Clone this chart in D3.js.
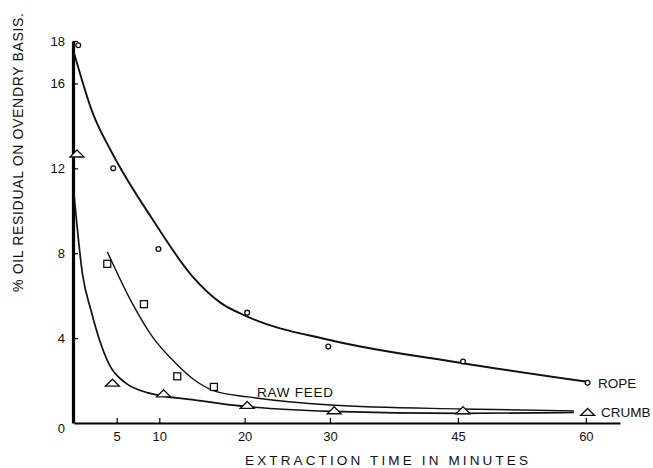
<!DOCTYPE html>
<html>
<head>
<meta charset="utf-8">
<script src="https://cdn.jsdelivr.net/npm/d3@7"></script>
<style>
  body { margin: 0; background: #fff; }
  text { font-family: "Liberation Sans", Arial, sans-serif; fill: #111; }
</style>
</head>
<body>
<div class="container"></div>
<script>
// measured points
const ropeTime = [0.5, 4.6, 9.9, 20.3, 29.8, 45.6, 60.2]
const ropeOil = [17.8, 12.0, 8.2, 5.2, 3.6, 2.9, 1.9]
const rawTime = [3.9, 8.2, 12.1, 16.4]
const rawOil = [7.5, 5.6, 2.2, 1.7]
const crumbTime = [0.35, 4.5, 10.5, 20.3, 30.5, 45.6, 60.2]
const crumbOil = [12.7, 1.9, 1.4, 0.85, 0.6, 0.6, 0.52]

// hand drawn fitted curves
const ropeFitTime = [0, 2.2, 4.5, 9.2, 13.9, 17.2, 20.4, 30.1, 45.4, 60.4]
const ropeFitOil = [17.45, 14.6, 12.7, 9.6, 6.9, 5.66, 5.0, 3.9, 2.83, 1.93]
const rawFitTime = [3.9, 6.8, 9.2, 11.9, 14.2, 16.5, 20.4, 30.1, 45.4, 58.6]
const rawFitOil = [8.07, 5.66, 4.06, 2.83, 2.0, 1.5, 1.23, 0.85, 0.66, 0.57]
const crumbFitTime = [0, 1.0, 2.0, 3.0, 4.2, 6.0, 8.7, 14.2, 20.1, 30.1, 45.4, 58.6]
const crumbFitOil = [10.8, 7.0, 5.3, 3.9, 2.7, 1.9, 1.42, 1.08, 0.78, 0.55, 0.45, 0.5]

const xTicks = [5, 10, 20, 30, 45, 60]
const yTicks = [4, 8, 12, 16, 18]

const width = 653
const height = 468

const xScale = d3.scaleLinear().domain([0, 64]).range([74, 620])
const yScale = d3.scaleLinear().domain([0, 18]).range([423, 41])

const svg = d3.select(".container").append("svg")
    .attr("width", width)
    .attr("height", height)

const xAxis = d3.axisBottom(xScale).tickValues(xTicks).tickSizeInner(-5).tickSizeOuter(0).tickPadding(9)
const yAxis = d3.axisLeft(yScale).tickValues(yTicks).tickSizeInner(-5).tickSizeOuter(0).tickPadding(8)

const gx = svg.append("g")
    .attr("transform", `translate(0,${yScale(0)})`)
    .call(xAxis)
gx.select(".domain").attr("stroke-width", 2)
gx.selectAll(".tick line").attr("stroke-width", 1.2)
gx.selectAll(".tick text").style("font-size", "13px").attr("fill", "#111")

const gy = svg.append("g")
    .attr("transform", `translate(${xScale(0) - 1},0)`)
    .call(yAxis)
gy.select(".domain").attr("stroke-width", 3.2)
gy.selectAll(".tick line").attr("stroke-width", 1.2)
gy.selectAll(".tick text").style("font-size", "13px").attr("fill", "#111")

svg.append("text")
    .attr("x", xScale(0) - 9)
    .attr("y", yScale(0) + 10)
    .attr("text-anchor", "end")
    .style("font-size", "13px")
    .text("0")

const line = d3.line()
    .x(d => xScale(d[0]))
    .y(d => yScale(d[1]))
    .curve(d3.curveMonotoneX)

function drawFit(t, v, w){
    svg.append("path")
        .datum(t.map((d, i) => [d, v[i]]))
        .attr("d", line)
        .attr("fill", "none")
        .attr("stroke", "#111")
        .attr("stroke-width", w)
}
drawFit(ropeFitTime, ropeFitOil, 1.9)
drawFit(rawFitTime, rawFitOil, 1.4)
drawFit(crumbFitTime, crumbFitOil, 1.7)

svg.selectAll(".rope")
    .data(ropeTime)
    .enter()
    .append("circle")
    .attr("class", "rope")
    .attr("cx", d => xScale(d))
    .attr("cy", (d, i) => yScale(ropeOil[i]))
    .attr("r", 2.4)
    .attr("fill", "#fff")
    .attr("stroke", "#111")
    .attr("stroke-width", 1.3)

svg.selectAll(".raw")
    .data(rawTime)
    .enter()
    .append("rect")
    .attr("class", "raw")
    .attr("x", d => xScale(d) - 3.5)
    .attr("y", (d, i) => yScale(rawOil[i]) - 3.5)
    .attr("width", 7)
    .attr("height", 7)
    .attr("fill", "#fff")
    .attr("stroke", "#111")
    .attr("stroke-width", 1.3)

svg.selectAll(".crumb")
    .data(crumbTime)
    .enter()
    .append("path")
    .attr("class", "crumb")
    .attr("d", (d, i) => {
        const cx = xScale(d), cy = yScale(crumbOil[i])
        return `M${cx - 7},${cy + 3.5}L${cx + 7},${cy + 3.5}L${cx},${cy - 3.5}Z`
    })
    .attr("fill", "#fff")
    .attr("stroke", "#111")
    .attr("stroke-width", 1.3)

svg.append("text").attr("x", 598).attr("y", 388).style("font-size", "13.5px").text("ROPE")
svg.append("text").attr("x", 601).attr("y", 417).style("font-size", "13.5px").text("CRUMB")
svg.append("text").attr("x", 257).attr("y", 397).style("font-size", "13.5px")
    .attr("textLength", 76).attr("lengthAdjust", "spacing").text("RAW FEED")

svg.append("text")
    .attr("x", 245).attr("y", 465)
    .style("font-size", "13.5px")
    .attr("textLength", 283).attr("lengthAdjust", "spacing")
    .text("EXTRACTION  TIME  IN  MINUTES")

svg.append("text")
    .attr("transform", "translate(23,292) rotate(-90)")
    .style("font-size", "14px")
    .attr("textLength", 279).attr("lengthAdjust", "spacing")
    .text("% OIL  RESIDUAL  ON  OVENDRY  BASIS.")
</script>
</body>
</html>
